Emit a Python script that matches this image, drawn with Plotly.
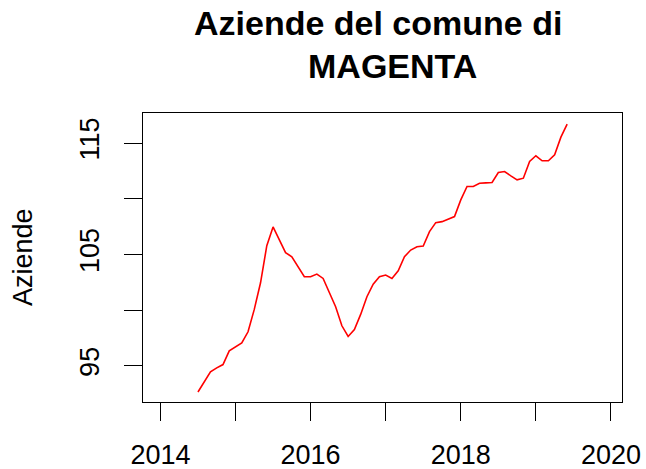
import pandas as pd
import plotly.graph_objects as go

# Monthly observations, July 2014 .. June 2019
months = pd.date_range("2014-07-01", periods=60, freq="MS")
time_dec = [d.year + (d.month - 1) / 12 for d in months]
aziende = [92.66, 93.56, 94.46, 94.82, 95.12, 96.35, 96.71, 97.07, 98.06, 100.07,
           102.46, 105.79, 107.47, 106.30, 105.16, 104.80, 103.90, 103.00, 103.00, 103.24,
           102.85, 101.50, 100.31, 98.60, 97.64, 98.27, 99.62, 101.21, 102.34, 103.00,
           103.15, 102.85, 103.54, 104.80, 105.40, 105.70, 105.76, 107.05, 107.86, 107.95,
           108.16, 108.40, 109.90, 111.10, 111.10, 111.40, 111.43, 111.46, 112.36, 112.45,
           112.06, 111.70, 111.85, 113.35, 113.86, 113.41, 113.41, 113.95, 115.53, 116.70]

x_ticks = [2014, 2015, 2016, 2017, 2018, 2019, 2020]
x_labels = ["2014", "", "2016", "", "2018", "", "2020"]
y_ticks = [95, 100, 105, 110, 115]
y_labels = ["95", "", "105", "", "115"]

title_line1 = "Aziende del comune di"
title_line2 = "MAGENTA"
y_title = "Aziende"

FONT = "Liberation Sans, Arial, Helvetica, sans-serif"

fig = go.Figure()
fig.add_trace(go.Scatter(x=time_dec, y=aziende, mode="lines",
                         line=dict(color="#ff0000", width=1.6),
                         showlegend=False, hoverinfo="x+y"))

axis_common = dict(showline=True, linecolor="black", linewidth=1, mirror=True,
                   ticks="outside", ticklen=18, tickwidth=1, tickcolor="black",
                   showgrid=False, zeroline=False, automargin=False,
                   tickfont=dict(family=FONT, size=27, color="black"))

fig.update_xaxes(range=[2013.768, 2020.147], tickmode="array",
                 tickvals=x_ticks, ticktext=x_labels, ticklabelstandoff=11,
                 **axis_common)
fig.update_yaxes(range=[91.76, 117.70], tickmode="array",
                 tickvals=y_ticks, ticktext=y_labels, tickangle=-90,
                 ticklabelstandoff=14, **axis_common)

fig.update_layout(
    width=646, height=469,
    margin=dict(l=143, r=24, t=113, b=67),
    paper_bgcolor="white", plot_bgcolor="white",
    font=dict(family=FONT, color="black"),
    annotations=[
        dict(text="<b>" + title_line1 + "</b>", xref="paper", yref="paper",
             x=(377.5 - 143) / 479, y=1 + (113 - 23) / 289,
             xanchor="center", yanchor="middle", showarrow=False,
             font=dict(family=FONT, size=34, color="black")),
        dict(text="<b>" + title_line2 + "</b>", xref="paper", yref="paper",
             x=(392.5 - 143) / 479, y=1 + (113 - 66.3) / 289,
             xanchor="center", yanchor="middle", showarrow=False,
             font=dict(family=FONT, size=34, color="black")),
        dict(text=y_title, xref="paper", yref="paper",
             x=(22.5 - 143) / 479, y=0.5, textangle=-90,
             xanchor="center", yanchor="middle", showarrow=False,
             font=dict(family=FONT, size=27, color="black")),
    ],
)

fig.write_html("out.html", config={"displayModeBar": False},
               post_script="document.body.style.margin='0';document.body.style.padding='0';")
